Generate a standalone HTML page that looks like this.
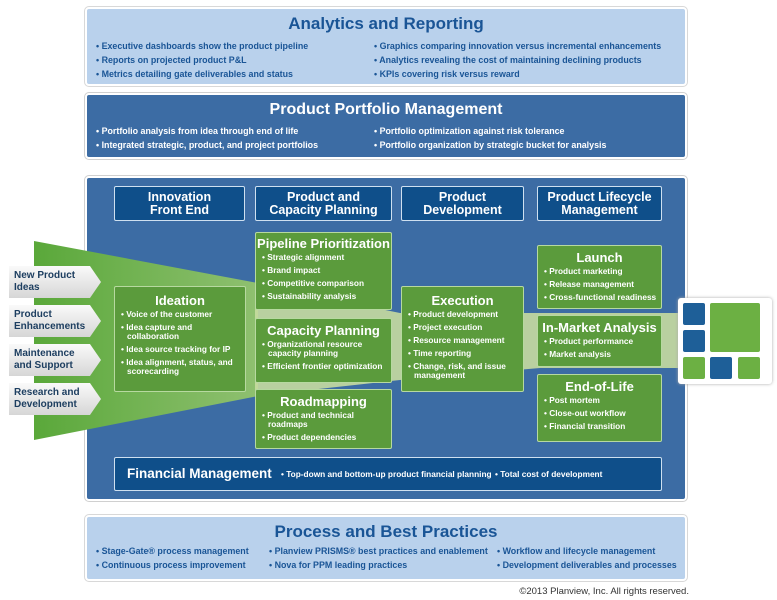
<!DOCTYPE html>
<html><head><meta charset="utf-8"><style>
*{margin:0;padding:0;box-sizing:border-box}
body{width:777px;height:600px;background:#fff;position:relative;overflow:hidden;font-family:"Liberation Sans",sans-serif;font-weight:bold}
.a{position:absolute}
.lp{background:#b9d1ec;border:2px solid #fff;box-shadow:0 0 0 1px #d8d8d8;border-radius:4px}
.dp{background:#3c6ca4;border:2px solid #fff;box-shadow:0 0 0 1px #d0d0d0;border-radius:4px}
.tl{color:#1a5596;font-size:17px;text-align:center;position:absolute;left:0;right:0}
.tw{color:#fff;font-size:16px;text-align:center;position:absolute;left:0;right:0}
.b{font-size:8.9px;line-height:14px;white-space:nowrap}
.bl{color:#1a5596}
.hd{background:#0f4f8a;border:1.5px solid #cfe0f0;border-radius:2px;color:#fff;font-size:12.5px;line-height:13px;text-align:center;display:flex;align-items:center;justify-content:center}
.g{background:#5b9b3c;border:1.5px solid #b7d9a0;border-radius:2px;color:#fff}
.g h{display:block;text-align:center;font-size:13px;margin-top:4px;margin-bottom:2px}
.g ul{list-style:none;padding-left:6px;padding-right:4px}
.g li{font-size:8.3px;line-height:9px;margin-bottom:4px;padding-left:6px;text-indent:-6px}
.tab{background:linear-gradient(#fafafa,#d6d6d6);color:#1d3e60;font-size:10px;line-height:12px;padding:4px 0 0 5px;clip-path:polygon(0 0,88% 0,100% 50%,88% 100%,0 100%);width:92px;height:32px}
</style></head><body>

<div class="a lp" style="left:85px;top:7px;width:602px;height:79px">
<div class="tl" style="top:5px">Analytics and Reporting</div>
<div class="a b bl" style="left:9px;top:30px">• Executive dashboards show the product pipeline<br>• Reports on projected product P&amp;L<br>• Metrics detailing gate deliverables and status</div>
<div class="a b bl" style="left:287px;top:30px">• Graphics comparing innovation versus incremental enhancements<br>• Analytics revealing the cost of maintaining declining products<br>• KPIs covering risk versus reward</div>
</div>

<div class="a dp" style="left:85px;top:93px;width:602px;height:66px">
<div class="tw" style="top:6px">Product Portfolio Management</div>
<div class="a b" style="left:9px;top:29px;color:#fff">• Portfolio analysis from idea through end of life<br>• Integrated strategic, product, and project portfolios</div>
<div class="a b" style="left:287px;top:29px;color:#fff">• Portfolio optimization against risk tolerance<br>• Portfolio organization by strategic bucket for analysis</div>
</div>

<div class="a dp" style="left:85px;top:176px;width:602px;height:325px"></div>

<svg class="a" style="left:0;top:0" width="777" height="600">
<defs><linearGradient id="gf" x1="0" x2="1"><stop offset="0" stop-color="#5aa83a"/><stop offset="1" stop-color="#8fc070"/></linearGradient></defs>
<polygon points="34,241 258,283 258,396 34,440" fill="url(#gf)"/>
<polygon points="255,283 400,313 540,313 680,313 680,368 540,368 400,380 255,396" fill="#c7dca0" opacity="0.9"/>
</svg>

<div class="a hd" style="left:114px;top:186px;width:131px;height:35px">Innovation<br>Front End</div>
<div class="a hd" style="left:255px;top:186px;width:137px;height:35px">Product and<br>Capacity Planning</div>
<div class="a hd" style="left:401px;top:186px;width:123px;height:35px">Product<br>Development</div>
<div class="a hd" style="left:537px;top:186px;width:125px;height:35px">Product Lifecycle<br>Management</div>

<div class="a tab" style="left:9px;top:266px">New Product<br>Ideas</div>
<div class="a tab" style="left:9px;top:305px">Product<br>Enhancements</div>
<div class="a tab" style="left:9px;top:344px">Maintenance<br>and Support</div>
<div class="a tab" style="left:9px;top:383px">Research and<br>Development</div>

<div class="a g" style="left:114px;top:286px;width:132px;height:106px"><h style="margin-top:6px">Ideation</h><ul><li>• Voice of the customer</li><li>• Idea capture and collaboration</li><li>• Idea source tracking for IP</li><li>• Idea alignment, status, and scorecarding</li></ul></div>
<div class="a g" style="left:255px;top:232px;width:137px;height:78px"><h style="margin-top:3px">Pipeline Prioritization</h><ul><li>• Strategic alignment</li><li>• Brand impact</li><li>• Competitive comparison</li><li>• Sustainability analysis</li></ul></div>
<div class="a g" style="left:255px;top:318px;width:137px;height:65px"><h>Capacity Planning</h><ul><li>• Organizational resource capacity planning</li><li>• Efficient frontier optimization</li></ul></div>
<div class="a g" style="left:255px;top:389px;width:137px;height:60px"><h>Roadmapping</h><ul><li>• Product and technical roadmaps</li><li>• Product dependencies</li></ul></div>
<div class="a g" style="left:401px;top:286px;width:123px;height:106px"><h style="margin-top:6px">Execution</h><ul><li>• Product development</li><li>• Project execution</li><li>• Resource management</li><li>• Time reporting</li><li>• Change, risk, and issue management</li></ul></div>
<div class="a g" style="left:537px;top:245px;width:125px;height:64px"><h>Launch</h><ul><li>• Product marketing</li><li>• Release management</li><li>• Cross-functional readiness</li></ul></div>
<div class="a g" style="left:537px;top:315px;width:125px;height:52px"><h>In-Market Analysis</h><ul><li>• Product performance</li><li>• Market analysis</li></ul></div>
<div class="a g" style="left:537px;top:374px;width:125px;height:68px"><h>End-of-Life</h><ul><li>• Post mortem</li><li>• Close-out workflow</li><li>• Financial transition</li></ul></div>

<div class="a" style="left:678px;top:298px;width:94px;height:86px;background:#fff;border-radius:3px;box-shadow:0 0 3px #aaa"></div>
<div class="a" style="left:683px;top:303px;width:22px;height:22px;background:#1e5f98;border-radius:2px"></div>
<div class="a" style="left:683px;top:330px;width:22px;height:22px;background:#1e5f98;border-radius:2px"></div>
<div class="a" style="left:710px;top:303px;width:50px;height:49px;background:#6cb043;border-radius:2px"></div>
<div class="a" style="left:683px;top:357px;width:22px;height:22px;background:#6cb043;border-radius:2px"></div>
<div class="a" style="left:710px;top:357px;width:22px;height:22px;background:#1e5f98;border-radius:2px"></div>
<div class="a" style="left:738px;top:357px;width:22px;height:22px;background:#6cb043;border-radius:2px"></div>

<div class="a" style="left:114px;top:457px;width:548px;height:34px;background:#0f4f8a;border:1.5px solid #cfe0f0;border-radius:2px;color:#fff">
<span class="a" style="left:12px;top:8px;font-size:13.5px">Financial Management</span>
<span class="a b" style="left:166px;top:9px;font-size:8.3px">• Top-down and bottom-up product financial planning</span>
<span class="a b" style="left:380px;top:9px;font-size:8.3px">• Total cost of development</span>
</div>

<div class="a lp" style="left:85px;top:515px;width:602px;height:66px">
<div class="tl" style="top:5px">Process and Best Practices</div>
<div class="a b bl" style="left:9px;top:27px">• Stage-Gate® process management<br>• Continuous process improvement</div>
<div class="a b bl" style="left:182px;top:27px">• Planview PRISMS® best practices and enablement<br>• Nova for PPM leading practices</div>
<div class="a b bl" style="left:410px;top:27px">• Workflow and lifecycle management<br>• Development deliverables and processes</div>
</div>

<div class="a" style="right:88px;top:586px;font-size:9.5px;font-weight:normal;color:#333">©2013 Planview, Inc. All rights reserved.</div>
</body></html>
